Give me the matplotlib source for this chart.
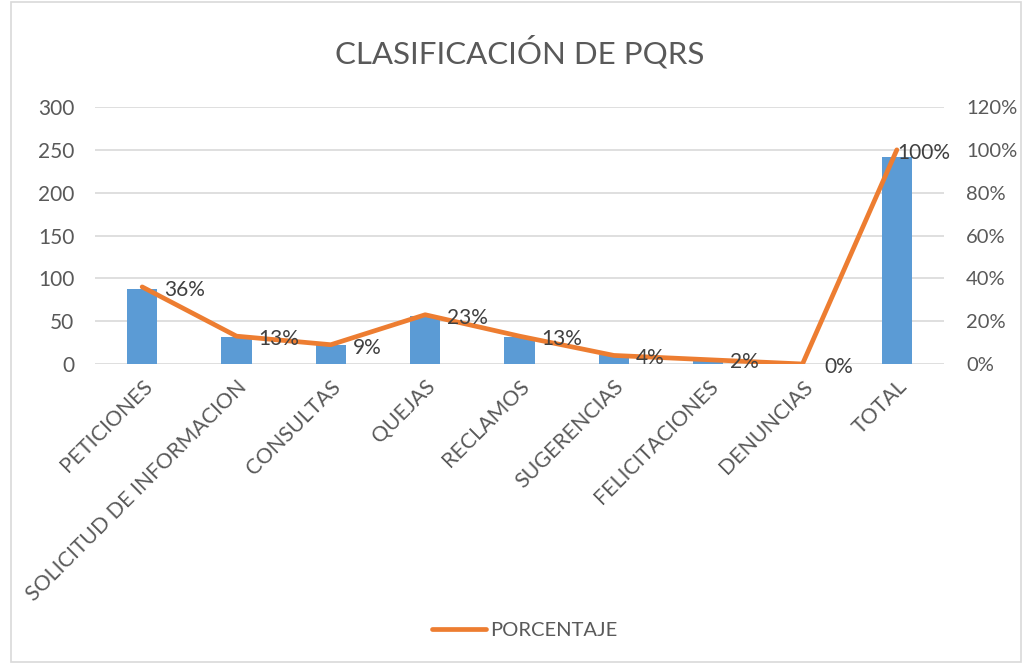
import matplotlib
matplotlib.use("Agg")
import matplotlib.pyplot as plt
from matplotlib.patches import Rectangle
from matplotlib.ticker import FuncFormatter

categories = ["PETICIONES", "SOLICITUD DE INFORMACION", "CONSULTAS", "QUEJAS",
              "RECLAMOS", "SUGERENCIAS", "FELICITACIONES", "DENUNCIAS", "TOTAL"]
cantidad = [87, 32, 22, 56, 31, 10, 4, 0, 242]
porcentaje = [0.36, 0.13, 0.09, 0.23, 0.13, 0.04, 0.02, 0.0, 1.0]
pct_labels = ["36%", "13%", "9%", "23%", "13%", "4%", "2%", "0%", "100%"]
left_ticks = [0, 50, 100, 150, 200, 250, 300]
right_ticks = [0, 0.2, 0.4, 0.6, 0.8, 1.0, 1.2]

plt.rcParams['font.family'] = ['Lato', 'DejaVu Sans']
grey = "#595959"

fig = plt.figure(figsize=(10.23, 6.63), dpi=100)
ax = fig.add_axes([95/1023, 1-364/663, (944-95)/1023, (364-107)/663])
x = list(range(len(categories)))
ax.bar(x, cantidad, width=0.32, color="#5B9BD5", zorder=2)
ax.set_ylim(0, 300)
ax.set_xlim(-0.5, len(categories)-0.5)
ax.set_yticks(left_ticks)
ax.yaxis.grid(True, color="#D9D9D9", linewidth=1.2, zorder=0)
ax.set_axisbelow(True)
for s in ax.spines.values():
    s.set_visible(False)
ax.tick_params(axis='y', length=0, labelsize=15, labelcolor=grey, pad=15)
ax.tick_params(axis='x', length=0, labelsize=15.3, labelcolor=grey, pad=9)
ax.set_xticks(x)
ax.set_xticklabels(categories, rotation=45, ha='right', rotation_mode='anchor')

ax2 = ax.twinx()
ax2.plot(x, porcentaje, color="#ED7D31", linewidth=3.4, solid_capstyle='round', zorder=3,
         label="PORCENTAJE")
ax2.set_ylim(0, 1.2)
ax2.set_yticks(right_ticks)
ax2.yaxis.set_major_formatter(FuncFormatter(lambda v, p: f"{v*100:.0f}%"))
ax2.tick_params(axis='y', length=0, labelsize=14.5, labelcolor=grey, pad=16)
for s in ax2.spines.values():
    s.set_visible(False)
for i, (xi, yi, lab) in enumerate(zip(x, porcentaje, pct_labels)):
    dx = 0 if i == len(x) - 1 else 16
    ax2.annotate(lab, (xi, yi), xytext=(dx, -2), textcoords='offset points',
                 ha='left', va='center', fontsize=15, color="#404040", zorder=4)

fig.text(0.508, 1-52/663, "CLASIFICACIÓN DE PQRS", ha='center', va='center',
         fontsize=22.5, color=grey)
leg = fig.legend(handles=ax2.get_lines(), loc='center', bbox_to_anchor=(0.513, 1-630/663),
                 frameon=False, fontsize=14.5, handlelength=2.7, handletextpad=0.2)
for t in leg.get_texts():
    t.set_color(grey)

fig.patches.append(Rectangle((11/1023, 0.002), 1-13/1023, 0.995, transform=fig.transFigure,
                             fill=False, edgecolor="#D9D9D9", linewidth=1.2))
fig.savefig("out.png", dpi=100)
